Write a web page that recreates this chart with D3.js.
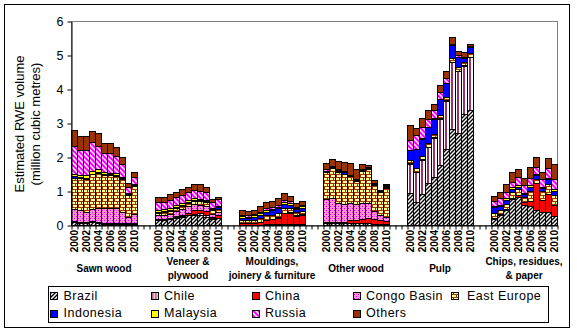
<!DOCTYPE html>
<html><head><meta charset="utf-8">
<script src="https://cdn.jsdelivr.net/npm/d3@7"></script>
<style>
html,body{margin:0;padding:0;background:#fff;}
text{font-family:"Liberation Sans",Arial,sans-serif;fill:#000;}
</style></head>
<body><div id="chart"></div>
<script>
// ---------- data ----------
const groupLabels = [["Sawn wood"],["Veneer &","plywood"],["Mouldings,","joinery & furniture"],["Other wood"],["Pulp"],["Chips, residues,","& paper"]];
const years = ["2000","2001","2002","2003","2004","2005","2006","2007","2008","2009","2010"];
const yearTickLabels = ["2000","2002","2004","2006","2008","2010"];
const seriesNames = ["Brazil","Chile","China","Congo Basin","East Europe","Indonesia","Malaysia","Russia","Others"];
const yTicks = [0,1,2,3,4,5,6];
// values (million m3), per group: Sawn, Veneer, Mouldings, Other wood, Pulp, Chips; years 2000-2010
const brazil = [
 0.08,0.07,0.06,0.08,0.06,0.04,0.04,0.04,0.04,0.03,0.03,
 0.15,0.15,0.18,0.22,0.25,0.28,0.30,0.30,0.25,0.18,0.20,
 0.01,0.01,0.01,0.01,0.02,0.02,0.02,0.04,0.03,0.02,0.02,
 0.06,0.06,0.06,0.05,0.06,0.05,0.05,0.05,0.04,0.03,0.03,
 0.93,0.67,0.91,1.23,1.40,1.76,2.23,2.81,2.70,3.26,3.38,
 0.17,0.28,0.44,0.76,0.83,0.58,0.56,0.44,0.37,0.37,0.26];
const chile = [
 0,0,0,0,0,0,0,0,0,0,0,
 0.01,0.01,0.01,0.01,0.01,0.02,0.03,0.05,0.05,0.02,0.02,
 0,0,0,0,0,0,0,0,0,0,0,
 0,0,0,0,0,0,0,0,0,0,0,
 0.87,0.89,1.01,1.06,1.17,1.37,1.43,1.98,1.83,1.43,1.56,
 0,0,0,0,0,0,0,0,0,0,0];
const china = [
 0.03,0.03,0.03,0.03,0.03,0.03,0.03,0.03,0.02,0.02,0.02,
 0.02,0.02,0.03,0.03,0.03,0.05,0.10,0.10,0.10,0.05,0.06,
 0.04,0.04,0.05,0.08,0.13,0.15,0.20,0.30,0.33,0.25,0.28,
 0.04,0.04,0.04,0.05,0.08,0.10,0.12,0.16,0.14,0.12,0.10,
 0.01,0.01,0.01,0.01,0.01,0.01,0.01,0.01,0.01,0.01,0.01,
 0.03,0.03,0.03,0.03,0.04,0.10,0.15,0.80,0.37,0.55,0.33];
const congo = [
 0.36,0.34,0.30,0.36,0.40,0.42,0.42,0.42,0.33,0.19,0.26,
 0.10,0.10,0.10,0.15,0.18,0.20,0.18,0.15,0.15,0.08,0.10,
 0.01,0.01,0.01,0.01,0.01,0.01,0.01,0.02,0.01,0.01,0.01,
 0.66,0.68,0.54,0.51,0.52,0.46,0.49,0.45,0.22,0.13,0.12,
 0,0,0,0,0,0,0,0,0,0,0,
 0,0,0,0,0,0,0,0,0,0,0];
const eastEurope = [
 0.91,0.93,0.97,1.02,1.05,0.98,0.98,0.96,0.97,0.64,0.84,
 0.08,0.09,0.09,0.10,0.09,0.10,0.10,0.10,0.12,0.10,0.10,
 0.09,0.08,0.09,0.10,0.12,0.10,0.12,0.15,0.13,0.10,0.11,
 0.80,0.90,0.92,0.89,0.78,0.69,0.94,0.98,0.78,0.68,0.85,
 0.10,0.10,0.10,0.10,0.10,0.10,0.10,0.10,0.10,0.10,0.10,
 0.14,0.12,0.14,0.18,0.18,0.15,0.30,0.10,0.25,0.28,0.30];
const indonesia = [
 0.06,0.03,0.03,0.02,0.02,0.02,0.02,0.02,0.02,0.02,0.02,
 0.03,0.03,0.03,0.03,0.03,0.03,0.03,0.03,0.03,0.03,0.04,
 0.07,0.07,0.08,0.10,0.11,0.15,0.14,0.12,0.10,0.08,0.09,
 0.02,0.03,0.04,0.05,0.01,0.01,0.01,0.02,0.02,0.01,0.02,
 0.29,0.57,0.51,0.48,0.45,0.46,0.41,0.38,0.30,0.12,0.18,
 0.18,0.13,0.12,0.10,0.08,0.07,0.12,0.12,0.10,0.14,0.12];
const malaysia = [
 0.06,0.06,0.07,0.07,0.10,0.06,0.05,0.05,0.03,0.03,0.04,
 0.05,0.06,0.05,0.05,0.05,0.06,0.05,0.04,0.04,0.03,0.04,
 0.04,0.04,0.04,0.04,0.05,0.05,0.05,0.05,0.05,0.04,0.05,
 0.02,0.02,0.03,0.04,0.01,0.02,0.02,0.02,0.03,0.02,0.03,
 0.01,0.01,0.01,0.01,0.01,0.01,0.01,0.01,0.01,0.01,0.01,
 0.04,0.04,0.05,0.05,0.05,0.04,0.05,0.04,0.04,0.05,0.05];
const russia = [
 0.82,0.74,0.74,0.85,0.67,0.57,0.57,0.52,0.37,0.20,0.21,
 0.23,0.23,0.25,0.22,0.24,0.22,0.24,0.24,0.24,0.18,0.20,
 0.04,0.04,0.04,0.05,0.05,0.06,0.06,0.07,0.05,0.04,0.04,
 0.04,0.01,0.01,0.01,0.01,0.01,0.01,0.02,0.02,0.01,0.02,
 0.29,0.39,0.32,0.22,0.24,0.21,0.14,0.02,0.04,0.02,0.02,
 0.14,0.18,0.20,0.15,0.22,0.24,0.21,0.20,0.21,0.28,0.28];
const others = [
 0.47,0.41,0.41,0.33,0.37,0.28,0.29,0.24,0.21,0.12,0.13,
 0.14,0.14,0.16,0.17,0.17,0.15,0.17,0.19,0.13,0.09,0.07,
 0.13,0.12,0.13,0.16,0.18,0.18,0.18,0.18,0.15,0.12,0.12,
 0.17,0.19,0.24,0.24,0.36,0.30,0.15,0.06,0.07,0.03,0.04,
 0.43,0.22,0.27,0.27,0.17,0.20,0.21,0.21,0.13,0.14,0.05,
 0.15,0.18,0.23,0.28,0.24,0.19,0.31,0.29,0.21,0.29,0.45];
const seriesValues = [brazil,chile,china,congo,eastEurope,indonesia,malaysia,russia,others];

// ---------- layout ----------
const W = 577, H = 332;
const X0 = 71, X1 = 557, YT = 21, YB = 225;
const GAP = 3; // empty category slots between groups
const nSlots = groupLabels.length * years.length + (groupLabels.length - 1) * GAP;

const svg = d3.select("#chart").append("svg").attr("width", W).attr("height", H);
const defs = svg.append("defs");

// patterns
function pat(id, w, h, build, x = 0) {
  const p = defs.append("pattern").attr("id", id).attr("patternUnits", "userSpaceOnUse")
    .attr("width", w).attr("height", h).attr("x", x).attr("y", 0);
  build(p);
}
pat("pBrazil", 4, 4, p => {
  p.append("rect").attr("width", 4).attr("height", 4).attr("fill", "#fff");
  p.append("path").attr("d", "M-1,1 L1,-1 M0,4 L4,0 M3,5 L5,3").attr("stroke", "#000").attr("stroke-width", 1.4);
});
pat("pChile", 6, 6, p => {
  p.append("rect").attr("width", 6).attr("height", 6).attr("fill", "#fff");
  p.append("rect").attr("x", 2).attr("width", 2).attr("height", 6).attr("fill", "#993366");
}, X0);
pat("pChileL", 3, 3, p => {
  p.append("rect").attr("width", 3).attr("height", 3).attr("fill", "#fff");
  p.append("rect").attr("x", 1.5).attr("width", 1.5).attr("height", 3).attr("fill", "#993366");
}, 0.5);
pat("pCongo", 4, 4, p => {
  p.append("rect").attr("width", 4).attr("height", 4).attr("fill", "#ff99cc");
  p.append("rect").attr("x", 0).attr("y", 0).attr("width", 1).attr("height", 1).attr("fill", "#cc00cc");
  p.append("rect").attr("x", 2).attr("y", 2).attr("width", 1).attr("height", 1).attr("fill", "#cc00cc");
  p.append("rect").attr("x", 2).attr("y", 0).attr("width", 1).attr("height", 1).attr("fill", "#ff66ff");
  p.append("rect").attr("x", 0).attr("y", 2).attr("width", 1).attr("height", 1).attr("fill", "#ff66ff");
});
pat("pEE", 6, 6, p => {
  p.append("rect").attr("width", 6).attr("height", 6).attr("fill", "#ffff99");
  p.append("rect").attr("x", 0).attr("y", 0).attr("width", 6).attr("height", 1).attr("fill", "#993300");
  p.append("rect").attr("x", 0).attr("y", 3).attr("width", 6).attr("height", 1).attr("fill", "#993300");
  p.append("rect").attr("x", 1).attr("y", 0).attr("width", 1).attr("height", 3).attr("fill", "#993300");
  p.append("rect").attr("x", 4).attr("y", 3).attr("width", 1).attr("height", 3).attr("fill", "#993300");
}, X0);
pat("pRussia", 5, 5, p => {
  p.append("rect").attr("width", 5).attr("height", 5).attr("fill", "#ff00ff");
  p.append("path").attr("d", "M-1,-1 L6,6 M-1,4 L1,6 M4,-1 L6,1").attr("stroke", "#fff").attr("stroke-width", 1.4);
});

const fills = {
  "Brazil": "url(#pBrazil)", "Chile": "url(#pChile)", "China": "#ff0000",
  "Congo Basin": "url(#pCongo)", "East Europe": "url(#pEE)", "Indonesia": "#0000ff",
  "Malaysia": "#ffff00", "Russia": "url(#pRussia)", "Others": "#993300"
};
const legendFills = Object.assign({}, fills, {"Chile": "url(#pChileL)"});

// outer frame
svg.append("rect").attr("x", 4.5).attr("y", 4.5).attr("width", 565).attr("height", 323)
  .attr("fill", "none").attr("stroke", "#000").attr("stroke-width", 1);

// scales
const xb = d3.scaleBand().domain(d3.range(nSlots)).range([X0, X1]).padding(0);
const xl = d3.scaleLinear().domain([0, nSlots]).range([X0, X1]);
const y = d3.scaleLinear().domain([0, 6]).range([YB, YT]);

// plot area border
svg.append("rect").attr("x", X0 + 0.5).attr("y", YT + 0.5).attr("width", X1 - X0).attr("height", YB - YT)
  .attr("fill", "none").attr("stroke", "#808080").attr("stroke-width", 1);

// rows
const rows = [];
groupLabels.forEach((g, gi) => {
  years.forEach((yr, yi) => {
    const idx = gi * years.length + yi;
    const row = {slot: gi * (years.length + GAP) + yi, group: gi, year: yr};
    seriesNames.forEach((s, si) => row[s] = seriesValues[si][idx]);
    rows.push(row);
  });
});
const stacked = d3.stack().keys(seriesNames)(rows);

const bars = svg.append("g").attr("shape-rendering", "crispEdges");
stacked.forEach(layer => {
  bars.append("g").attr("fill", fills[layer.key])
    .selectAll("rect").data(layer.filter(d => d[1] - d[0] > 0.0001)).join("rect")
    .attr("x", d => xb(d.data.slot) + 0.5)
    .attr("y", d => y(d[1]) + 0.5)
    .attr("width", xb.bandwidth())
    .attr("height", d => y(d[0]) - y(d[1]))
    .attr("stroke", "#000").attr("stroke-width", 1);
});

// y axis
const yAxis = svg.append("g").attr("transform", `translate(${X0 + 0.5},0.5)`)
  .call(d3.axisLeft(y).tickValues(yTicks).tickSize(4).tickPadding(4).tickSizeOuter(0).tickFormat(d3.format("d")));
yAxis.select(".domain").attr("stroke", "#000");
yAxis.selectAll("line").attr("stroke", "#000");
yAxis.selectAll("text").attr("font-size", 12.5).attr("font-family", "Liberation Sans, Arial, sans-serif");

// x axis (ticks at every category boundary)
const xAxis = svg.append("g").attr("transform", `translate(0.5,${YB + 0.5})`)
  .call(d3.axisBottom(xl).tickValues(d3.range(nSlots + 1)).tickSize(4).tickSizeOuter(0).tickFormat(""));
xAxis.select(".domain").attr("stroke", "#000");
xAxis.selectAll("line").attr("stroke", "#000");

// year labels
const yearLab = svg.append("g");
rows.filter(r => yearTickLabels.includes(r.year)).forEach(r => {
  yearLab.append("text")
    .attr("transform", `translate(${xb(r.slot) + xb.bandwidth() / 2 + 0.5},${YB + 5}) rotate(-90)`)
    .attr("text-anchor", "end").attr("dy", "0.36em")
    .attr("font-size", 10).attr("font-weight", "bold").text(r.year);
});

// group labels
groupLabels.forEach((g, gi) => {
  const s0 = gi * (years.length + GAP);
  const cx = (xb(s0) + xb(s0 + years.length - 1) + xb.bandwidth()) / 2;
  const t = svg.append("text").attr("text-anchor", "middle").attr("font-size", 10).attr("font-weight", "bold");
  const startY = g.length === 1 ? 271.5 : 265;
  g.forEach((line, li) => {
    t.append("tspan").attr("x", cx).attr("y", startY + li * 13.5).text(line);
  });
});

// y title
const yt = svg.append("text").attr("transform", "translate(0,124) rotate(-90)").attr("text-anchor", "middle").attr("font-size", 13);
yt.append("tspan").attr("x", 0).attr("y", 24).text("Estimated RWE volume");
yt.append("tspan").attr("x", 0).attr("y", 39.5).text("(million cubic metres)");

// legend
svg.append("rect").attr("x", 48.5).attr("y", 286.5).attr("width", 500).attr("height", 36)
  .attr("fill", "#fff").attr("stroke", "#000").attr("stroke-width", 1);
const colSwX = [50, 151, 252, 353, 450.5];
const colTxX = [63.5, 164, 265, 366, 467];
const rowY = [292, 309.5];
const leg = svg.append("g");
seriesNames.forEach((s, i) => {
  const r = i < 5 ? 0 : 1, c = i < 5 ? i : i - 5;
  leg.append("rect").attr("x", colSwX[c] + 0.5).attr("y", rowY[r] + 0.5).attr("width", 7).attr("height", 7)
    .attr("fill", legendFills[s]).attr("stroke", "#000").attr("stroke-width", 1).attr("shape-rendering", "crispEdges");
  leg.append("text").attr("x", colTxX[c]).attr("y", rowY[r] + 7.5).attr("font-size", 12.5)
    .attr("letter-spacing", 0.5).text(s);
});
</script></body></html>
